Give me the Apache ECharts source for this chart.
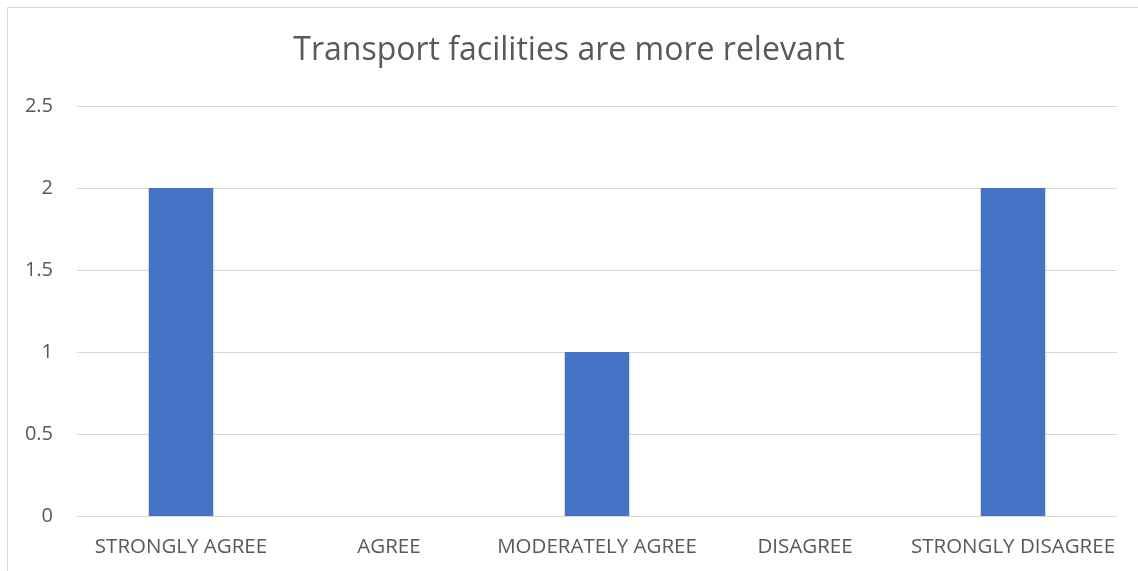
<!DOCTYPE html>
<html>
<head>
<meta charset="utf-8">
<script src="https://cdn.jsdelivr.net/npm/echarts@6/dist/echarts.min.js"></script>
<style>
  html, body { margin: 0; padding: 0; background: #fff; }
  #chart { width: 1138px; height: 571px; }
  .frame { position: absolute; left: 7px; top: 7px; width: 1200px; height: 700px; border: 1px solid #d9d9d9; pointer-events: none; }
</style>
</head>
<body>
<div id="chart"></div>
<div class="frame"></div>
<script>
var categories = ['STRONGLY AGREE', 'AGREE', 'MODERATELY AGREE', 'DISAGREE', 'STRONGLY DISAGREE'];
var values = [2, 0, 1, 0, 2];
var chartTitle = 'Transport facilities are more relevant';

var chart = echarts.init(document.getElementById('chart'));
chart.setOption({
  animation: false,
  title: {
    text: chartTitle,
    left: 'center',
    top: 30,
    textStyle: { fontFamily: 'Open Sans', fontSize: 32, fontWeight: 'normal', color: '#595959' }
  },
  grid: { left: 77, right: 21, top: 106, bottom: 55 },
  xAxis: {
    type: 'category',
    data: categories,
    axisLine: { lineStyle: { color: '#d9d9d9', width: 1 } },
    axisTick: { show: false },
    axisLabel: { interval: 0, color: '#595959', fontFamily: 'Open Sans', fontSize: 20.5, margin: 21 }
  },
  yAxis: {
    type: 'value',
    min: 0,
    max: 2.5,
    interval: 0.5,
    axisLine: { show: false },
    axisTick: { show: false },
    splitLine: { lineStyle: { color: '#d9d9d9', width: 1 } },
    axisLabel: { color: '#595959', fontFamily: 'Open Sans', fontSize: 20, margin: 24 }
  },
  series: [{
    type: 'bar',
    data: values,
    barWidth: '31%',
    itemStyle: { color: '#4472c4' }
  }]
});
</script>
</body>
</html>
